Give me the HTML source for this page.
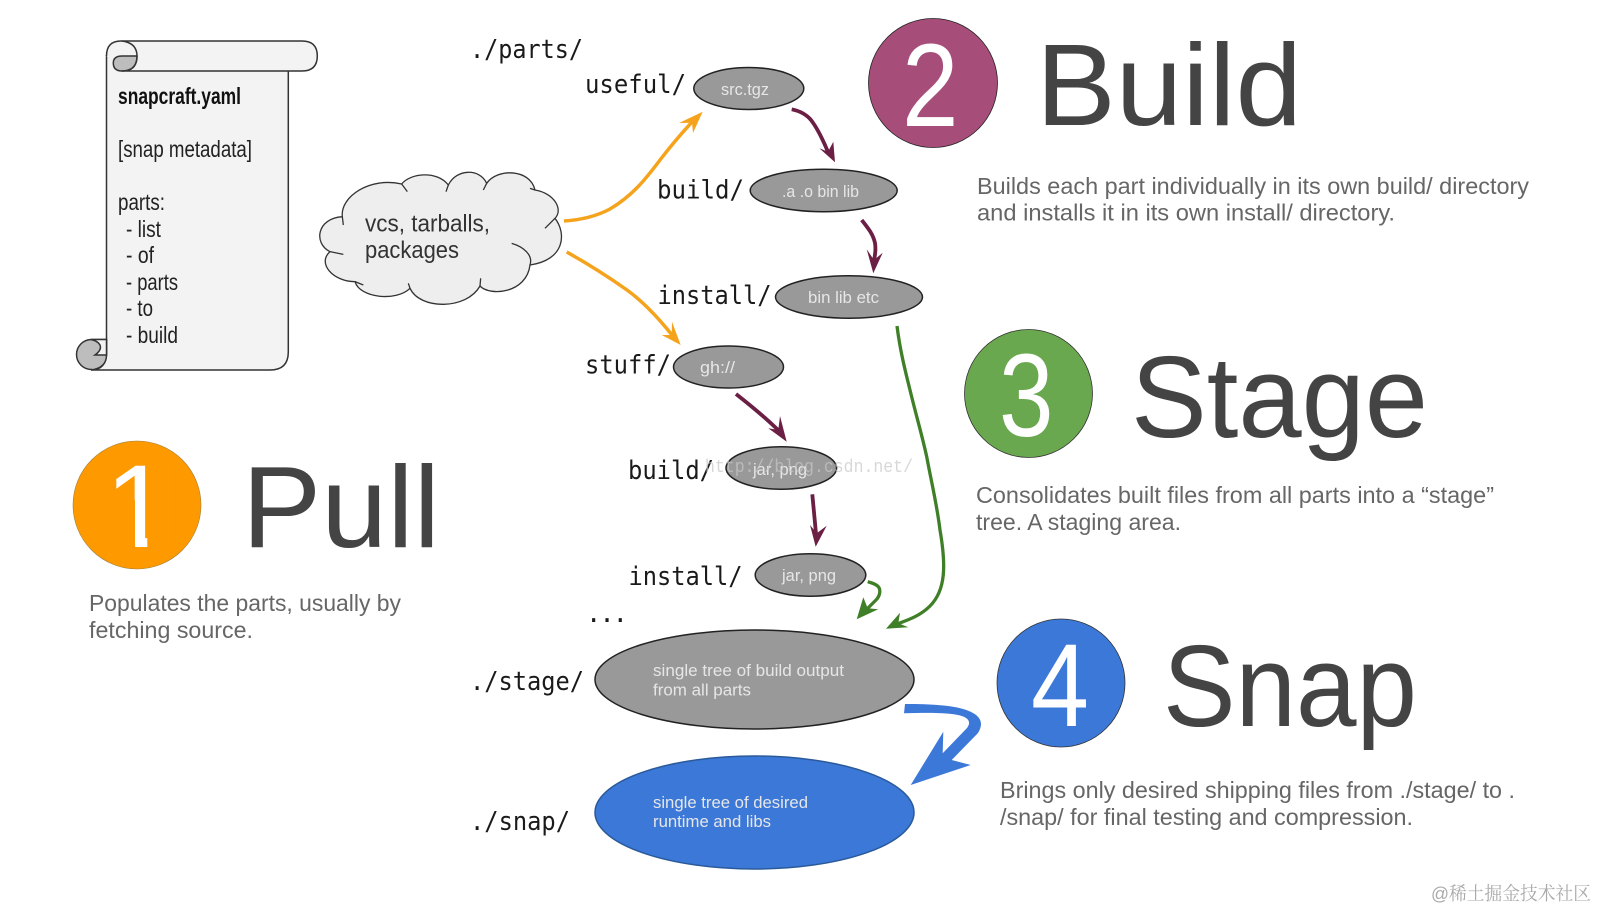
<!DOCTYPE html>
<html><head><meta charset="utf-8"><style>
html,body{margin:0;padding:0;background:#fff;width:1597px;height:910px;overflow:hidden}
svg{display:block;filter:blur(.35px)}
text{font-family:"Liberation Sans","Noto Sans CJK SC",sans-serif}
.m{font-family:"DejaVu Sans Mono","Liberation Mono",monospace;font-size:25.5px;fill:#1a1a1a}
.s{font-size:23px;fill:#222}
.h{font-size:116px;fill:#444}
.n{font-size:118px;fill:#fff}
.d{font-size:23.5px;fill:#666}
.e{font-size:17px;fill:#e6e6e6}
.a{fill:none;stroke-linecap:butt;stroke-linejoin:round}
</style></head><body>
<svg width="1597" height="910" viewBox="0 0 1597 910" xmlns="http://www.w3.org/2000/svg">
<rect width="1597" height="910" fill="#fff"/>
<!-- scroll -->
<g stroke="#333" stroke-width="1.5">
<path d="M106.500 56V352Q106.500 370 91 370H270Q288.300 370 288.300 352V60H120Z" fill="#f3f3f3"/>
<path d="M106.500 56Q106.500 41 121 41H302Q317.300 41 317.300 56Q317.300 71 302 71H122" fill="#f3f3f3"/>
<path d="M137 56H122Q113.300 56 113.300 63Q113.300 71 122 71Q137 71 137 56Z" fill="#bdbdbd"/>
<path d="M122 41Q137 43 137 56Q137 71 122 71" fill="none"/>
<path d="M106.500 355A15 15 0 1 1 91 339.500H106.500Z" fill="#bdbdbd"/>
<path d="M91 339.500H106.500V355H95Q102 350 100 345Q98 341 91 339.500Z" fill="#f3f3f3"/>
<path d="M91 370Q106.500 368 106.500 355" fill="#bdbdbd"/>
</g>
<text x="118" y="104" class="s" font-weight="700" style="fill:#111" textLength="123" lengthAdjust="spacingAndGlyphs">snapcraft.yaml</text>
<text x="118" y="157" class="s" textLength="134" lengthAdjust="spacingAndGlyphs">[snap metadata]</text>
<text x="118" y="210" class="s" textLength="47" lengthAdjust="spacingAndGlyphs">parts:</text>
<text x="126" y="237" class="s" textLength="35" lengthAdjust="spacingAndGlyphs">- list</text>
<text x="126" y="263" class="s" textLength="28" lengthAdjust="spacingAndGlyphs">- of</text>
<text x="126" y="290" class="s" textLength="52" lengthAdjust="spacingAndGlyphs">- parts</text>
<text x="126" y="316" class="s" textLength="27" lengthAdjust="spacingAndGlyphs">- to</text>
<text x="126" y="343" class="s" textLength="52" lengthAdjust="spacingAndGlyphs">- build</text>
<!-- cloud -->
<g transform="translate(310 160) scale(.33333)" stroke="#333" fill="none">
<path vector-effect="non-scaling-stroke" stroke-width="1.3" fill="#eeeeee" d="M97 170C90 110 180 50 275 72C300 40 380 30 415 75C440 25 510 25 530 70C560 25 660 25 675 90C735 100 760 150 735 175C770 220 765 300 660 315C650 400 540 410 510 378C470 450 330 450 300 385C260 425 150 415 135 365C70 365 20 310 60 275C10 250 20 175 97 170Z"/>
<path vector-effect="non-scaling-stroke" stroke-width="1.3" d="M605 250C640 260 670 285 660 315M100 283L60 275M275 72L292 95M415 75L408 95M530 70L520 90M675 90L660 85M735 175L705 205M510 378L512 355M300 385L295 370M135 365L160 375M97 170L100 195"/>
</g>
<text x="365" y="231.500" font-size="24.500" fill="#333" textLength="125" lengthAdjust="spacingAndGlyphs">vcs, tarballs,</text>
<text x="365" y="258" font-size="24.500" fill="#333" textLength="94" lengthAdjust="spacingAndGlyphs">packages</text>
<!-- mono labels -->
<text x="470" y="58" class="m" textLength="113" lengthAdjust="spacingAndGlyphs">./parts/</text>
<text x="585" y="93" class="m" textLength="101" lengthAdjust="spacingAndGlyphs">useful/</text>
<text x="657" y="198.500" class="m" textLength="87" lengthAdjust="spacingAndGlyphs">build/</text>
<text x="657.500" y="304" class="m" textLength="114" lengthAdjust="spacingAndGlyphs">install/</text>
<text x="585" y="373.500" class="m" textLength="86" lengthAdjust="spacingAndGlyphs">stuff/</text>
<text x="628" y="479" class="m" textLength="86" lengthAdjust="spacingAndGlyphs">build/</text>
<text x="628.500" y="585" class="m" textLength="114" lengthAdjust="spacingAndGlyphs">install/</text>
<text x="586" y="622" class="m" textLength="42" lengthAdjust="spacing">...</text>
<text x="470" y="690" class="m" textLength="114" lengthAdjust="spacingAndGlyphs">./stage/</text>
<text x="470" y="830" class="m" textLength="100" lengthAdjust="spacingAndGlyphs">./snap/</text>
<!-- ellipses -->
<g stroke="#222" stroke-width="1.5" fill="#999">
<ellipse cx="748.800" cy="88.500" rx="55" ry="21"/>
<ellipse cx="823.700" cy="190.500" rx="73.500" ry="21.200"/>
<ellipse cx="849" cy="297" rx="73.500" ry="21.200"/>
<ellipse cx="728.500" cy="367" rx="55" ry="21"/>
<ellipse cx="781.300" cy="468" rx="55.300" ry="21.200"/>
<ellipse cx="810.500" cy="575" rx="55.300" ry="21.200"/>
<ellipse cx="754.500" cy="679.500" rx="159.500" ry="49.500"/>
<ellipse cx="754.500" cy="812.500" rx="159.500" ry="56.500" fill="#3c78d8" stroke="#2a5a9a"/>
</g>
<text x="721" y="95" class="e" textLength="48" lengthAdjust="spacingAndGlyphs">src.tgz</text>
<text x="782" y="197" class="e" textLength="77" lengthAdjust="spacingAndGlyphs">.a .o bin lib</text>
<text x="808" y="303" class="e" textLength="71" lengthAdjust="spacingAndGlyphs">bin lib etc</text>
<text x="700" y="373" class="e" textLength="35" lengthAdjust="spacingAndGlyphs">gh://</text>
<text x="753" y="475" class="e" textLength="54" lengthAdjust="spacingAndGlyphs">jar, png</text>
<text x="782" y="581" class="e" textLength="54" lengthAdjust="spacingAndGlyphs">jar, png</text>
<text x="653" y="676" class="e" textLength="191" lengthAdjust="spacingAndGlyphs">single tree of build output</text>
<text x="653" y="695.500" class="e" textLength="98" lengthAdjust="spacingAndGlyphs">from all parts</text>
<text x="653" y="808" class="e" textLength="155" lengthAdjust="spacingAndGlyphs">single tree of desired</text>
<text x="653" y="827" class="e" textLength="118" lengthAdjust="spacingAndGlyphs">runtime and libs</text>
<!-- orange arrows -->
<path class="a" stroke="#f5a31c" stroke-width="3.500" d="M564 221C580 220 595 217 610 209C632 196 645 180 660 160C670 147 680 135 692 122"/>
<path fill="#f5a31c" d="M702.700 111.700L679 123L692 122.700L693 133Z"/>
<path class="a" stroke="#f5a31c" stroke-width="3.500" d="M566.700 252C590 265 610 278 627 290C645 303 660 320 672 335"/>
<path fill="#f5a31c" d="M680.700 345L661.700 335L671.700 335L672 321.700Z"/>
<!-- purple arrows -->
<g class="a" stroke="#6b1f45" stroke-width="3.800">
<path d="M791.700 109.300C800 111 806 114 811 120C818 129 823 140 828 152"/>
<path d="M861.700 220C868 228 873 234 875 243C876 250 875 255 874 261"/>
<path d="M736 394C750 405 765 417 779 431"/>
<path d="M812.300 494.300L815 523L816 534"/>
</g>
<g fill="#6b1f45">
<path d="M835 162.300L819.300 148.300L828 151.700L833.300 141.700Z"/>
<path d="M873.300 273.300L866.700 249.300L874 260L882.700 252.700Z"/>
<path d="M786.700 441.700L768.300 428.300L778.300 430L780 416Z"/>
<path d="M815.700 546.700L810 525L816.700 533.300L826.700 525.700Z"/>
</g>
<!-- green arrows -->
<g class="a" stroke="#3f7f28" stroke-width="3.300">
<path d="M897 326C900 350 905 370 910 390C916 415 922 435 926.700 456.700C932 485 937 505 940 530C946 565 946 590 930 606C920 616 908 620 897 624"/>
<path d="M867.700 581.700C872 583 876 584 878.300 586.700C881 590 880 596 876 600C873 603 870 606 867 609"/>
</g>
<g fill="#3f7f28">
<path d="M886 628.700L900 612.700L898.300 623.300L908.300 627.300Z"/>
<path d="M856.700 619.300L863.300 597.300L867.700 608.300L878.300 609.300Z"/>
</g>
<!-- blue arrow -->
<path fill="#3c78d8" d="M905 704C930 704 960 705 973 713C982 718 983 725 978 733L951.700 760L970.700 765L910.700 785L943.300 731.700L942.700 753.300L967 728C973 720 965 716 956 714.600C940 712 920 713 904 713.300Z"/>
<!-- numbered circles -->
<circle cx="137" cy="505" r="64" fill="#ff9900" stroke="#a08040" stroke-width=".6"/>
<circle cx="933" cy="83" r="64.500" fill="#a64d79" stroke="#222" stroke-width=".8"/>
<circle cx="1028.500" cy="393.500" r="64" fill="#6aa84f" stroke="#333" stroke-width=".8"/>
<circle cx="1061" cy="683" r="64" fill="#3c78d8" stroke="#333" stroke-width=".8"/>
<text x="105" y="547" class="n">1</text>
<rect x="106" y="500" width="29" height="49" fill="#ff9900"/>
<rect x="147.300" y="460" width="28" height="89" fill="#ff9900"/>
<text x="902" y="126" class="n" textLength="56.500" lengthAdjust="spacingAndGlyphs">2</text>
<text x="999" y="436" class="n" textLength="54.500" lengthAdjust="spacingAndGlyphs">3</text>
<text x="1031" y="726" class="n" textLength="58" lengthAdjust="spacingAndGlyphs">4</text>
<!-- headings -->
<text x="1036" y="125" class="h" textLength="266" lengthAdjust="spacingAndGlyphs">Build</text>
<text x="1131" y="437" class="h" textLength="297" lengthAdjust="spacingAndGlyphs">Stage</text>
<text x="242" y="547" class="h" textLength="198" lengthAdjust="spacingAndGlyphs">Pull</text>
<text x="1163" y="726" class="h" textLength="254" lengthAdjust="spacingAndGlyphs">Snap</text>
<!-- descriptions -->
<text x="977" y="194" class="d" textLength="552" lengthAdjust="spacingAndGlyphs">Builds each part individually in its own build/ directory</text>
<text x="977" y="220.500" class="d" textLength="418" lengthAdjust="spacingAndGlyphs">and installs it in its own install/ directory.</text>
<text x="976" y="503" class="d" textLength="518" lengthAdjust="spacingAndGlyphs">Consolidates built files from all parts into a “stage”</text>
<text x="976" y="530" class="d" textLength="205" lengthAdjust="spacingAndGlyphs">tree. A staging area.</text>
<text x="89" y="611" class="d" textLength="312" lengthAdjust="spacingAndGlyphs">Populates the parts, usually by</text>
<text x="89" y="638" class="d" textLength="164" lengthAdjust="spacingAndGlyphs">fetching source.</text>
<text x="1000" y="798" class="d" textLength="515" lengthAdjust="spacingAndGlyphs">Brings only desired shipping files from ./stage/ to .</text>
<text x="1000" y="825" class="d" textLength="413" lengthAdjust="spacingAndGlyphs">/snap/ for final testing and compression.</text>
<!-- watermarks -->
<text x="705" y="472" font-size="18" style="font-family:'Liberation Mono',monospace;fill:#c8c8c8;fill-opacity:.7" textLength="208" lengthAdjust="spacingAndGlyphs">http://blog.csdn.net/</text>
<text x="1431" y="900" font-size="18.500" style="font-family:'Liberation Sans','Noto Serif CJK SC',serif;fill:#aaa" textLength="160" lengthAdjust="spacingAndGlyphs">@稀土掘金技术社区</text>
</svg>
</body></html>
